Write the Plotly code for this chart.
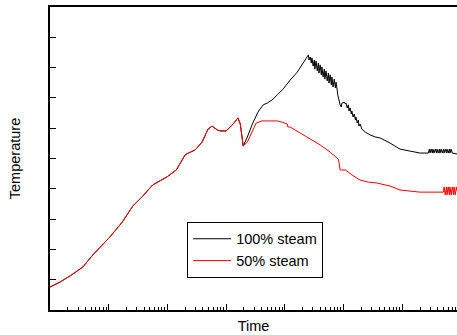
import plotly.graph_objects as go

# shared part of the history (log10 of time, temperature)
shared_logt = [0.00, 0.17, 0.37, 0.56, 0.73, 0.89, 1.02, 1.23, 1.41, 1.58, 1.75, 1.87,
               1.99, 2.15, 2.23, 2.30, 2.39, 2.47, 2.59, 2.69, 2.76, 2.85, 2.90, 3.00,
               3.12, 3.20, 3.24, 3.27, 3.29]
shared_temp = [76, 92, 116, 142, 182, 215, 241, 290, 343, 376, 413, 426,
               439, 462, 488, 512, 521, 528, 554, 597, 607, 594, 591, 591,
               614, 634, 614, 561, 541]

# 100% steam after the split
steam100_logt = [3.36, 3.44, 3.54, 3.63, 3.70, 3.78, 3.87, 3.97, 4.09, 4.21, 4.31, 4.40,
                 4.41, 4.43, 4.45, 4.46, 4.48, 4.50, 4.51, 4.53, 4.55, 4.57, 4.58, 4.60,
                 4.62, 4.63, 4.65, 4.67, 4.68, 4.70, 4.72, 4.74, 4.75, 4.77, 4.79, 4.80,
                 4.82, 4.84, 4.86, 4.87, 4.89, 4.90, 4.94, 4.96, 4.97, 5.01, 5.03, 5.04,
                 5.06, 5.08, 5.09, 5.11, 5.13, 5.14, 5.16, 5.18, 5.20, 5.21, 5.23, 5.25,
                 5.26, 5.28, 5.31, 5.37, 5.45, 5.54, 5.62, 5.79, 5.96, 6.13, 6.30, 6.44,
                 6.46, 6.47, 6.49, 6.51, 6.52, 6.54, 6.56, 6.58, 6.59, 6.61, 6.63, 6.64,
                 6.66, 6.68, 6.70, 6.71, 6.73, 6.75, 6.76, 6.78, 6.80, 6.81, 6.83, 6.85,
                 6.93]
steam100_temp = [571, 611, 653, 677, 683, 693, 710, 729, 759, 785, 815, 842,
                 825, 835, 815, 832, 805, 825, 795, 822, 789, 815, 782, 809,
                 776, 802, 769, 795, 762, 789, 756, 782, 749, 776, 743, 769,
                 736, 762, 733, 752, 726, 710, 677, 670, 683, 686, 680, 683,
                 667, 677, 657, 667, 647, 657, 637, 647, 627, 637, 617, 627,
                 607, 614, 597, 587, 578, 571, 568, 551, 531, 525, 518, 518,
                 531, 518, 531, 518, 531, 518, 531, 518, 531, 518, 531, 518,
                 531, 518, 531, 518, 531, 518, 531, 518, 531, 518, 531, 518,
                 515]

# 50% steam after the split
steam50_logt = [3.36, 3.44, 3.51, 3.61, 3.87, 3.95, 4.04, 4.05, 4.09, 4.26, 4.43, 4.60,
                4.77, 4.86, 4.91, 4.92, 4.94, 5.03, 5.14, 5.28, 5.42, 5.57, 5.79, 5.96,
                6.13, 6.30, 6.70, 6.71, 6.73, 6.75, 6.76, 6.78, 6.80, 6.81, 6.83, 6.85,
                6.87, 6.88, 6.90, 6.92, 6.93]
steam50_temp = [554, 591, 617, 624, 624, 620, 614, 604, 604, 584, 564, 545,
                521, 508, 498, 488, 462, 462, 446, 429, 422, 419, 409, 396,
                393, 389, 389, 406, 380, 406, 380, 406, 380, 406, 380, 406,
                380, 406, 380, 406, 393]

series_names = ["100% steam", "50% steam"]
x_title = "Time"
y_title = "Temperature"

t100 = [10 ** v for v in shared_logt + steam100_logt]
y100 = shared_temp + steam100_temp
t50 = [10 ** v for v in shared_logt + steam50_logt]
y50 = shared_temp + steam50_temp

fig = go.Figure()
fig.add_trace(go.Scatter(x=t100, y=y100, mode="lines", name=series_names[0],
                         line=dict(color="#000000", width=1)))
fig.add_trace(go.Scatter(x=t50, y=y50, mode="lines", name=series_names[1],
                         line=dict(color="#ff0000", width=1)))

fig.update_layout(
    width=457, height=335,
    margin=dict(l=50, r=0, t=7, b=25, autoexpand=False),
    paper_bgcolor="white", plot_bgcolor="white",
    font=dict(family="Liberation Sans, Arial, sans-serif", size=14.5, color="#000000"),
    showlegend=True,
    legend=dict(x=0.337, y=0.291, xanchor="left", yanchor="top",
                bordercolor="#000000", borderwidth=1, bgcolor="white",
                font=dict(size=14.5), tracegroupgap=0, itemwidth=38),
)
fig.update_xaxes(
    type="log", range=[0, 6.93], dtick=1, showticklabels=False,
    ticks="inside", ticklen=6, tickwidth=1, tickcolor="#000000",
    minor=dict(ticks="inside", ticklen=3, tickwidth=1, tickcolor="#000000", dtick="D1", showgrid=False),
    showgrid=False, zeroline=False, automargin=False,
    showline=True, linecolor="#000000", linewidth=1.5, mirror=True,
    title=dict(text=x_title, standoff=10, font=dict(size=14.5)),
)
fig.update_yaxes(
    range=[0, 1000], dtick=100, showticklabels=False,
    ticks="inside", ticklen=6, tickwidth=1, tickcolor="#000000",
    showgrid=False, zeroline=False, automargin=False,
    showline=True, linecolor="#000000", linewidth=1.5,
    title=dict(text=y_title, standoff=24, font=dict(size=14.5)),
)

fig.write_html("out.html", config={"displayModeBar": False},
               post_script="document.body.style.margin='0';document.body.style.overflow='hidden';")
